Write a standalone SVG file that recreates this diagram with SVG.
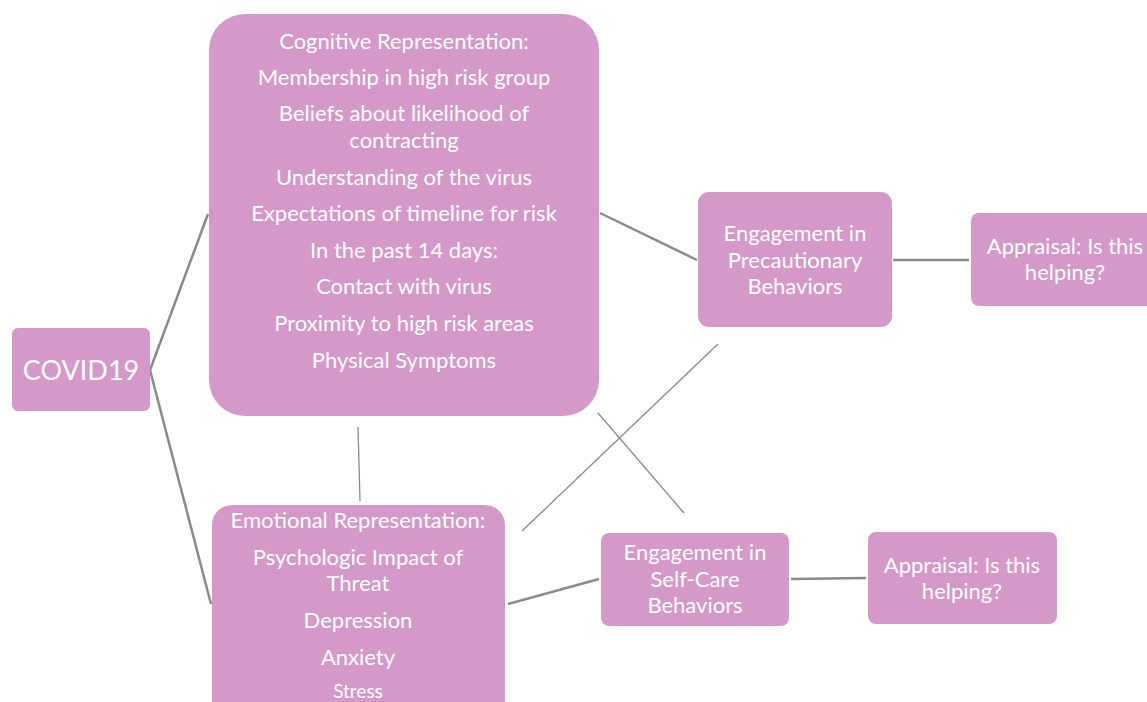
<svg xmlns="http://www.w3.org/2000/svg" width="1147" height="702" viewBox="0 0 1147 702">
<style>
.n{fill:#d499c8}
text{font-family:Lato,"Open Sans","Liberation Sans",sans-serif;fill:#fff;text-anchor:middle;font-size:22px}
.c{stroke:#8a8a8a;fill:none}
.t{stroke-width:2.5}
.h{stroke-width:1.3}
</style>
<rect width="1147" height="702" fill="#fff"/>
<g id="connectors">
<path class="c t" d="M208 214 L150 370 L211 604"/>
<line class="c t" x1="600" y1="213" x2="697" y2="260"/>
<line class="c t" x1="893" y1="260" x2="969" y2="260"/>
<line class="c h" x1="358" y1="427" x2="360" y2="501"/>
<line class="c h" x1="522" y1="531" x2="718" y2="344"/>
<line class="c h" x1="598" y1="413" x2="684" y2="513"/>
<line class="c t" x1="508" y1="604" x2="599" y2="579"/>
<line class="c t" x1="791" y1="579" x2="866" y2="578"/>
</g>
<g id="covid19">
<rect class="n" x="12" y="328" width="138" height="83" rx="6"/>
<text x="81" y="380" style="font-size:27px">COVID19</text>
</g>
<g id="cognitive">
<rect class="n" x="209" y="14" width="390" height="402" rx="36"/>
<text x="404" y="49">Cognitive Representation:</text>
<text x="404" y="85">Membership in high risk group</text>
<text x="404" y="121">Beliefs about likelihood of</text>
<text x="404" y="148">contracting</text>
<text x="404" y="185">Understanding of the virus</text>
<text x="404" y="221">Expectations of timeline for risk</text>
<text x="404" y="258">In the past 14 days:</text>
<text x="404" y="294">Contact with virus</text>
<text x="404" y="331">Proximity to high risk areas</text>
<text x="404" y="368">Physical Symptoms</text>
</g>
<g id="emotional">
<rect class="n" x="212" y="505" width="293" height="215" rx="20"/>
<text x="358" y="528">Emotional Representation:</text>
<text x="358" y="565">Psychologic Impact of</text>
<text x="358" y="591">Threat</text>
<text x="358" y="628">Depression</text>
<text x="358" y="665">Anxiety</text>
<text x="358" y="698" style="font-size:19px">Stress</text>
</g>
<g id="precautionary">
<rect class="n" x="698" y="192" width="194" height="135" rx="11"/>
<text x="795" y="241">Engagement in</text>
<text x="795" y="268">Precautionary</text>
<text x="795" y="294">Behaviors</text>
</g>
<g id="appraisal1">
<rect class="n" x="971" y="213" width="190" height="93" rx="8"/>
<text x="1065" y="254">Appraisal: Is this</text>
<text x="1065" y="280">helping?</text>
</g>
<g id="selfcare">
<rect class="n" x="601" y="533" width="188" height="93" rx="8"/>
<text x="695" y="560">Engagement in</text>
<text x="695" y="587">Self-Care</text>
<text x="695" y="613">Behaviors</text>
</g>
<g id="appraisal2">
<rect class="n" x="868" y="532" width="189" height="92" rx="8"/>
<text x="962" y="573">Appraisal: Is this</text>
<text x="962" y="599">helping?</text>
</g>
</svg>
